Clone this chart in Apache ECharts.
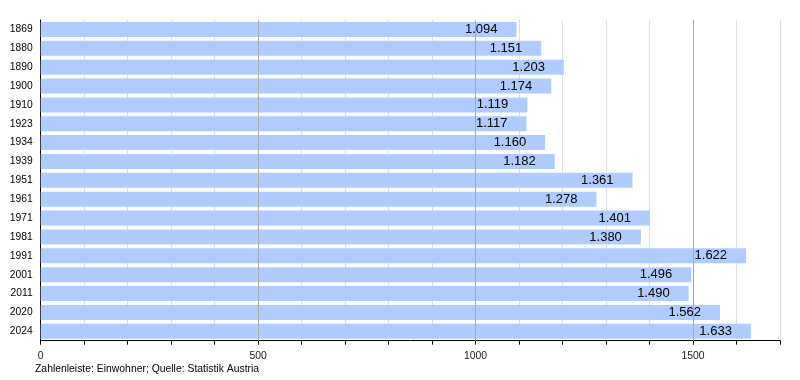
<!DOCTYPE html>
<html><head><meta charset="utf-8">
<script src="https://cdn.jsdelivr.net/npm/echarts@6/dist/echarts.min.js"></script>
<style>html,body{margin:0;padding:0;background:#fff}#c{width:800px;height:380px}</style>
</head><body><div id="c"></div>
<script>
const years = ['1869','1880','1890','1900','1910','1923','1934','1939','1951','1961','1971','1981','1991','2001','2011','2020','2024'];
const population = [1094,1151,1203,1174,1119,1117,1160,1182,1361,1278,1401,1380,1622,1496,1490,1562,1633];
const majorLines = [500,1000,1500];
const footer = 'Zahlenleiste: Einwohner; Quelle: Statistik Austria';
const fmt = v => { const s = String(v); return s.length > 3 ? s.slice(0, s.length-3) + '.' + s.slice(-3) : s; };
const chart = echarts.init(document.getElementById('c'), null, {renderer:'canvas'});
const font = '"Liberation Sans", Arial, sans-serif';
chart.setOption({
  animation:false,
  textStyle:{fontFamily:font},
  grid:{left:40.7,right:20,top:20,bottom:39.3,containLabel:false},
  xAxis:{type:'value',min:0,max:1700,interval:100,
    axisLine:{show:true,lineStyle:{color:'#000',width:1}},
    axisTick:{show:true,length:4,lineStyle:{color:'#000'}},
    axisLabel:{fontSize:10.4,color:'#222',margin:10,fontFamily:font,formatter:v=> v%500===0 ? String(v) : ''},
    splitLine:{show:true,lineStyle:{color:'#dddddd',width:1}}
  },
  yAxis:{type:'category',data:years,inverse:true,
    axisLine:{show:true,lineStyle:{color:'#000',width:1}},
    axisTick:{show:false},
    axisLabel:{fontSize:10.3,color:'#000',margin:8,fontFamily:font},
    splitLine:{show:false}
  },
  series:[
    {type:'bar',data:population,barWidth:15,z:2,
      itemStyle:{color:'#b0ccff'},
      markLine:{z:3,silent:true,symbol:'none',label:{show:false},
        lineStyle:{color:'#aaaaaa',type:'solid',width:1},
        data:majorLines.map(v=>({xAxis:v}))}
    },
    {type:'bar',data:population,barWidth:15,barGap:'-100%',z:4,silent:true,
      itemStyle:{color:'rgba(0,0,0,0)'},
      label:{show:true,position:'insideRight',distance:19,color:'#000',fontSize:13,fontFamily:font,formatter:p=>fmt(p.value)}
    }
  ],
  graphic:[{type:'text',left:35,top:364,style:{text:footer,fontSize:10.4,fill:'#000',fontFamily:font}}]
});
</script></body></html>
